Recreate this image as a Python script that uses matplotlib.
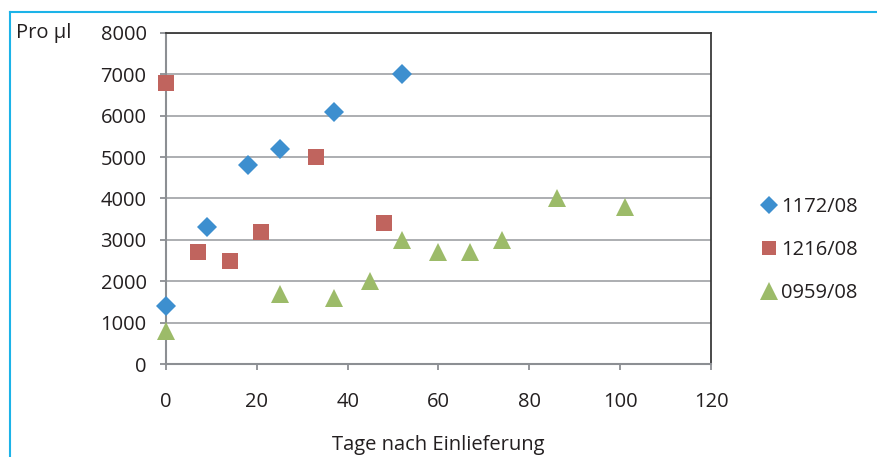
import matplotlib
matplotlib.use("Agg")
import matplotlib.pyplot as plt
from matplotlib.lines import Line2D

plt.rcParams['font.family'] = ['Open Sans', 'DejaVu Sans']

# days after admission / counts per microlitre
days_1172 = [0, 9, 18, 25, 37, 52]
vals_1172 = [1400, 3300, 4800, 5200, 6100, 7000]

days_1216 = [0, 7, 14, 21, 33, 48]
vals_1216 = [6800, 2700, 2500, 3200, 5000, 3400]

days_0959 = [0, 25, 37, 45, 52, 60, 67, 74, 86, 101]
vals_0959 = [800, 1700, 1600, 2000, 3000, 2700, 2700, 3000, 4000, 3800]

series = [
    ("1172/08", days_1172, vals_1172, "D", "#3d8fcf", 10),
    ("1216/08", days_1216, vals_1216, "s", "#c0645e", 11),
    ("0959/08", days_0959, vals_0959, "^", "#9cbb69", 13),
]

W, H = 877, 457
FS = 14.5
TXT = "#231f20"
fig = plt.figure(figsize=(W / 100, H / 100), dpi=100)
ax = fig.add_axes([166 / W, (H - 364) / H, 545 / W, 331 / H])

for name, x, y, mk, col, ms in series:
    ax.plot(x, y, linestyle="none", marker=mk, color=col, markersize=ms,
            markeredgewidth=0, label=name, clip_on=False, zorder=3)

ax.set_xlim(0, 120)
ax.set_ylim(0, 8000)
ax.set_xticks(range(0, 121, 20))
ax.set_yticks(range(0, 8001, 1000))
ax.grid(axis="y", color="#a6a8ab", linewidth=1.3)
ax.set_axisbelow(True)

for side in ("left", "bottom"):
    ax.spines[side].set_color("#8c8f93")
    ax.spines[side].set_linewidth(1.5)
for side in ("top", "right"):
    ax.spines[side].set_color("#3a3a3a")
    ax.spines[side].set_linewidth(1.3)

ax.tick_params(axis="both", direction="out", length=4.5, width=1.3,
               color="#8c8f93", labelsize=FS, labelcolor=TXT)
ax.tick_params(axis="x", pad=16)
ax.tick_params(axis="y", pad=9.5)

ax.set_xlabel("Tage nach Einlieferung", fontsize=FS, color=TXT, labelpad=16.5)
fig.text(16 / W, 1 - 33 / H, "Pro µl", fontsize=FS, color=TXT, va="center")

handles = [Line2D([], [], linestyle="none", marker=mk, color=col,
                  markersize=ms * 0.95, markeredgewidth=0)
           for _, _, _, mk, col, ms in series]
fig.legend(handles, [s[0] for s in series], loc="upper left",
           bbox_to_anchor=(753 / W, 1 - 189 / H), frameon=False,
           fontsize=FS, handlelength=0.8, handletextpad=0.2,
           labelspacing=1.15, labelcolor=TXT, borderaxespad=0)

# blue frame lines along top and left edges
fig.add_artist(Line2D([10 / W, 1], [1 - 12 / H, 1 - 12 / H], color="#1cb3e8", linewidth=1.5))
fig.add_artist(Line2D([10 / W, 10 / W], [0, 1 - 12 / H], color="#1cb3e8", linewidth=1.5))

fig.savefig("out.png", dpi=100)
